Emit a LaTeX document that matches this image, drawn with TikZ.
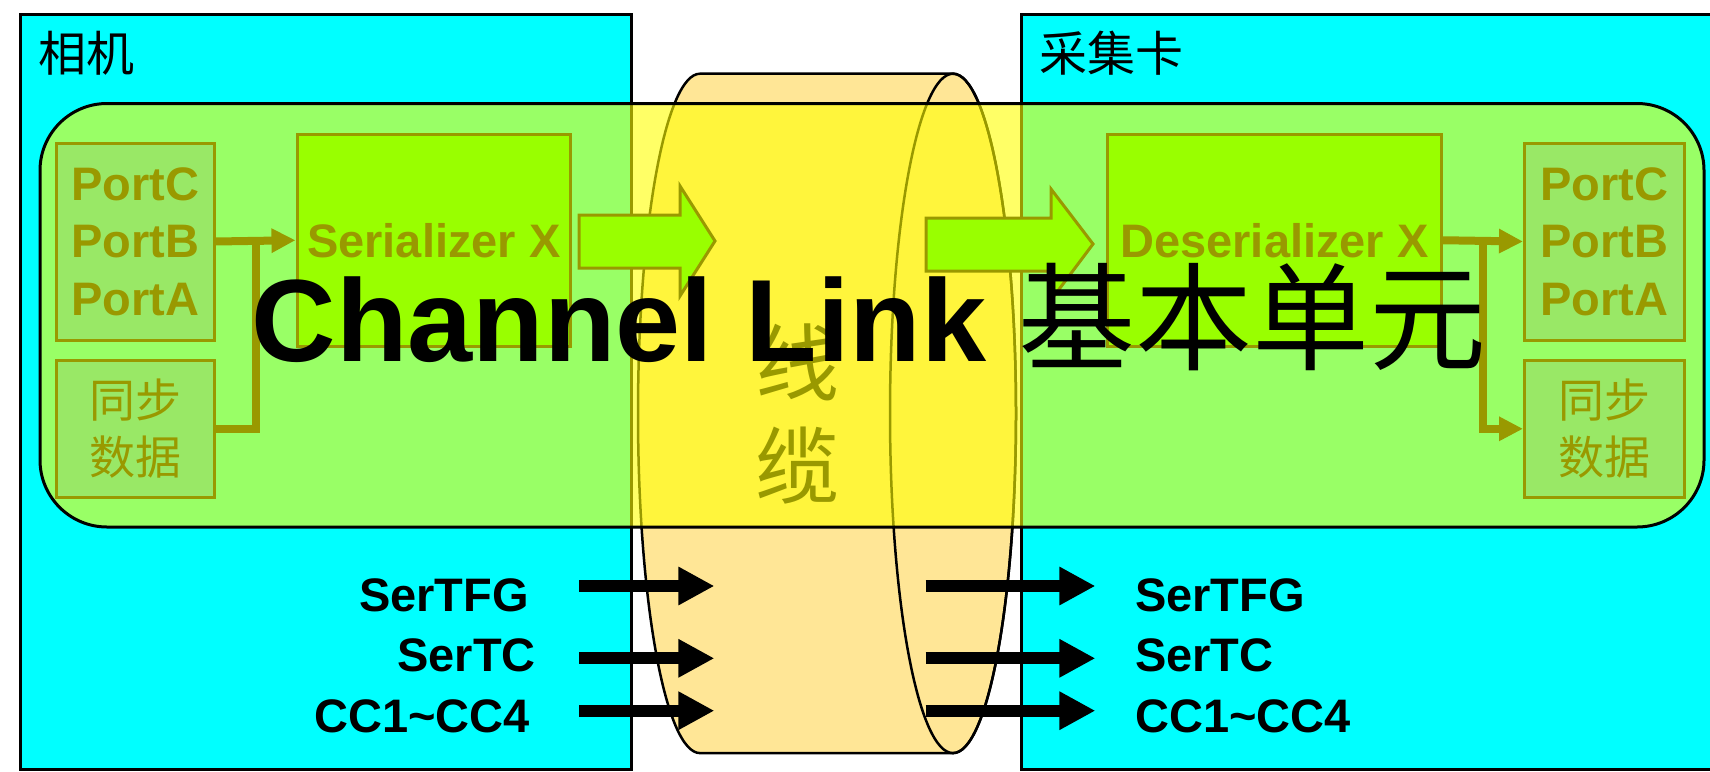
\documentclass[tikz,border=0pt]{standalone}
\usepackage{fontspec}
\setmainfont{Liberation Sans}
\newfontfamily\cjk{Noto Sans CJK SC}
\usetikzlibrary{arrows.meta,calc}
\definecolor{cyanC}{RGB}{0,255,255}
\definecolor{oliveC}{RGB}{153,153,0}
\definecolor{portC}{RGB}{153,232,102}
\definecolor{serC}{RGB}{153,255,0}
\definecolor{cylC}{RGB}{255,230,150}
\definecolor{hlC}{RGB}{255,255,0}
\begin{document}
\begin{tikzpicture}[x=1pt,y=-1pt,
  cyanbox/.style={fill=cyanC,draw=black,line width=3pt,inner sep=0pt,anchor=north west},
  portbox/.style={draw=oliveC,fill=portC,line width=3pt,text=oliveC,align=center,inner sep=0pt},
  porttext/.style={font=\fontsize{47}{57.5}\selectfont\bfseries},
  synctext/.style={font=\cjk\fontsize{46}{56.5}\selectfont},
  serbox/.style={draw=oliveC,fill=serC,line width=3pt,text=oliveC,inner sep=0pt,
    minimum height=212.5pt,font=\fontsize{47}{57.5}\selectfont\bfseries},
  olivewire/.style={draw=oliveC,line width=8pt,line join=miter},
  wirearrow/.style={olivewire,-{Triangle[length=24pt,width=23pt]}},
  blockarrow/.style={fill=serC,draw=oliveC,line width=3pt,line join=miter},
  sigarrow/.style={draw=black,line width=12pt,-{Triangle[length=36pt,width=36pt]}},
  siglabel/.style={font=\fontsize{47}{56}\selectfont\bfseries,inner sep=0pt},
  titletext/.style={font=\cjk\fontsize{48}{50}\selectfont,inner sep=0pt,anchor=base west},
]
\useasboundingbox (0,0) rectangle (1710,771);
\fill[white] (0,0) rectangle (1710,771);

% camera and grabber card
\node[cyanbox,minimum width=611.25pt,minimum height=755pt] (camera) at (18.75,13) {};
\node[cyanbox,minimum width=700pt,minimum height=755pt] (grabber) at (1020,13) {};
\node[titletext] (camtitle) at (38,71.5) {相机};
\node[titletext] (grabtitle) at (1039,71.5) {采集卡};

% cable cylinder
\path[fill=cylC,draw=black,line width=2.5pt]
  (953,73.7) -- (700,73.7)
  arc[start angle=270,end angle=90,x radius=62,y radius=339.7]
  -- (953,753.1)
  arc[start angle=90,end angle=-90,x radius=63,y radius=339.7] -- cycle;
\draw[black,line width=2.5pt] (953,413.4) ellipse[x radius=63,y radius=339.7];

% highlighted basic unit
\path[fill=hlC,fill opacity=0.6,draw=black,line width=3pt,rounded corners=67pt]
  (40,103.5) rectangle (1704,527);

% contents
\node[portbox,porttext,minimum width=158pt,minimum height=197pt] (lports) at (135,241.5) {PortC\\PortB\\PortA};
\node[portbox,synctext,minimum width=158pt,minimum height=136.4pt] (lsync) at (135,428.8) {同步\\数据};
\node[serbox,minimum width=273.5pt] (ser) at (433.75,240.25) {Serializer X};
\node[serbox,minimum width=334.3pt] (deser) at (1274.5,240.25) {Deserializer X};
\node[portbox,porttext,minimum width=159.5pt,minimum height=197pt] (rports) at (1604.25,241.5) {PortC\\PortB\\PortA};
\node[portbox,synctext,minimum width=159.5pt,minimum height=136.4pt] (rsync) at (1604.25,428.8) {同步\\数据};

\draw[wirearrow] (lports.east) -- (ser.west);
\draw[olivewire] (lsync.east) -| ($(lports.east)!0.5!(ser.west)$);
\draw[wirearrow] (deser.east) -- (rports.west);
\draw[wirearrow] ($(deser.east)!0.5!(rports.west)$) |- (rsync.west);

\path[blockarrow] (579,215) -- (680,215) -- (680,186) -- (715,241) -- (680,296) -- (680,268) -- (579,268) -- cycle;
\path[blockarrow] (926,218) -- (1051,218) -- (1051,189) -- (1093,244) -- (1051,300) -- (1051,271) -- (926,271) -- cycle;

\node[font=\cjk\fontsize{84}{103}\selectfont,text=oliveC,align=center,anchor=base,inner sep=0pt] (cable) at (797,497.4) {线\\缆};

% control signals
\node[siglabel,anchor=base east] (ltfg) at (529,611.7) {SerTFG};
\node[siglabel,anchor=base east] (ltc) at (536,671.7) {SerTC};
\node[siglabel,anchor=base east] (lcc) at (530,732.7) {CC1\textasciitilde CC4};
\node[siglabel,anchor=base west] (rtfg) at (1135,611.7) {SerTFG};
\node[siglabel,anchor=base west] (rtc) at (1135,671.7) {SerTC};
\node[siglabel,anchor=base west] (rcc) at (1135,732.7) {CC1\textasciitilde CC4};

\coordinate (la1) at (579,586);   \coordinate (lb1) at (714.4,586);
\coordinate (la2) at (579,658.3); \coordinate (lb2) at (714.4,658.3);
\coordinate (la3) at (579,710.7); \coordinate (lb3) at (714.4,710.7);
\coordinate (ra1) at (925.6,586);   \coordinate (rb1) at (1095.4,586);
\coordinate (ra2) at (925.6,658.3); \coordinate (rb2) at (1095.4,658.3);
\coordinate (ra3) at (925.6,710.7); \coordinate (rb3) at (1095.4,710.7);
\foreach \i in {1,2,3} {
  \draw[sigarrow] (la\i) -- (lb\i);
  \draw[sigarrow] (ra\i) -- (rb\i);
}

% big title
\node[anchor=base west,inner sep=0pt,font=\fontsize{117}{120}\selectfont] (title) at (251.5,361) {{\bfseries Channel Link} \cjk 基本单元};
\end{tikzpicture}
\end{document}
